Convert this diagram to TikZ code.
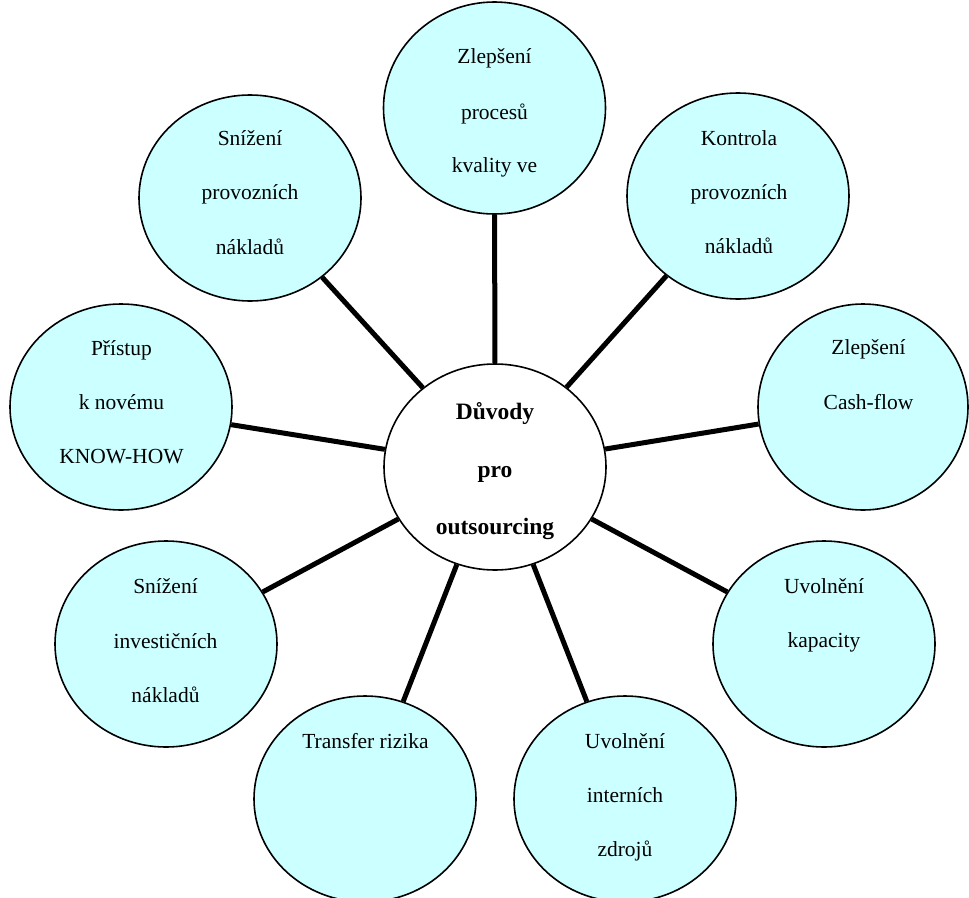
\documentclass[tikz,border=0pt]{standalone}
\usepackage{fontspec}
\setmainfont{Liberation Serif}
\usetikzlibrary{shapes.geometric}
\definecolor{bubble}{RGB}{204,255,255}
\begin{document}
\begin{tikzpicture}[x=1pt,y=-1pt,
  bub/.style={ellipse, draw=black, line width=1.6pt, fill=bubble, minimum width=222pt, minimum height=206pt, inner sep=0pt},
  hub/.style={bub, fill=white},
  txt/.style={anchor=base, inner sep=0pt, font=\fontsize{21.5}{26}\selectfont},
  btxt/.style={anchor=base, inner sep=0pt, font=\fontsize{23.5}{28}\selectfont\bfseries},
  link/.style={line width=5pt, draw=black}]
\useasboundingbox (0,0) rectangle (969,897);

% ellipses
\node[hub] (D)  at (495,467) {};
\node[bub, minimum height=212pt] (T)  at (494.5,108) {};
\node[bub] (SP) at (250,198) {};
\node[bub] (K)  at (738,196) {};
\node[bub] (P)  at (121,407) {};
\node[bub, minimum width=210pt] (C)  at (863,407) {};
\node[bub] (SI) at (166,644) {};
\node[bub] (UK) at (824,644) {};
\node[bub] (TR) at (365,799) {};
\node[bub] (UI) at (625,799) {};

% connectors
\foreach \n in {T,SP,K,P,C,SI,UK,TR,UI}{
  \draw[link] (D) -- (\n);
}

% texts
\node[btxt] (d1) at (495,419) {Důvody};
\node[btxt] (d2) at (495,477) {pro};
\node[btxt] (d3) at (495,534) {outsourcing};

\node[txt] (t1) at (494.5,63) {Zlepšení};
\node[txt] (t2) at (494.5,119) {procesů};
\node[txt] (t3) at (494.5,172) {kvality ve};

\node[txt] (sp1) at (250,145) {Snížení};
\node[txt] (sp2) at (250,199) {provozních};
\node[txt] (sp3) at (250,254) {nákladů};

\node[txt] (k1) at (739,145) {Kontrola};
\node[txt] (k2) at (739,199) {provozních};
\node[txt] (k3) at (739,253) {nákladů};

\node[txt] (p1) at (121.5,355) {Přístup};
\node[txt] (p2) at (121.5,409) {k novému};
\node[txt] (p3) at (121.5,463) {KNOW-HOW};

\node[txt] (c1) at (868.5,354) {Zlepšení};
\node[txt] (c2) at (868.5,409) {Cash-flow};

\node[txt] (si1) at (165.5,593) {Snížení};
\node[txt] (si2) at (165.5,648) {investičních};
\node[txt] (si3) at (165.5,702) {nákladů};

\node[txt] (uk1) at (824,593) {Uvolnění};
\node[txt] (uk2) at (824,647) {kapacity};

\node[txt] (tr1) at (365.5,748) {Transfer rizika};

\node[txt] (ui1) at (625,748) {Uvolnění};
\node[txt] (ui2) at (625,802) {interních};
\node[txt] (ui3) at (625,856) {zdrojů};
\end{tikzpicture}
\end{document}
